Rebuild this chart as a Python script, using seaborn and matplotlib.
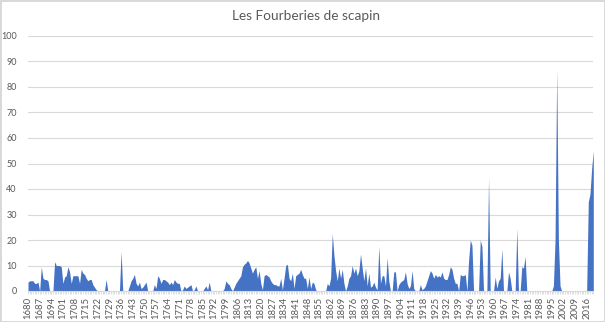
import numpy as np
import pandas as pd
import matplotlib
matplotlib.use("Agg")
import matplotlib.pyplot as plt
import seaborn as sns

title = "Les Fourberies de scapin"
start_year = 1680
end_year = 2020

v1680 = [3.5, 4, 4, 4, 3, 3, 3.5, 0, 9.5, 5]
v1690 = [4.5, 4.5, 4, 0, 0, 0, 11.5, 10, 10, 10]
v1700 = [9.5, 3, 5.5, 6, 9.5, 7.5, 3, 6, 6, 6]
v1710 = [6, 3, 8.5, 7, 6.5, 5, 4, 4.5, 4.5, 2.5]
v1720 = [1.5, 0.5, 0, 0, 0, 0, 0, 4.5, 0, 0]
v1730 = [0, 0, 0, 0, 0, 0, 15.5, 0, 0, 0]
v1740 = [0, 2, 4, 5, 6.5, 3, 2, 3.5, 1, 1.5]
v1750 = [2.5, 3.5, 0, 0, 0, 0, 2.5, 1, 6, 5]
v1760 = [3, 4.5, 4.5, 4, 3.5, 2.5, 3.5, 2.5, 4.5, 3.5]
v1770 = [3, 3, 0, 0.5, 2, 1, 1.5, 2, 2.5, 0]
v1780 = [0.5, 2, 0, 0, 0, 0, 1, 2, 0.5, 3.5]
v1790 = [0, 0, 0, 0, 0, 0, 0, 0, 1, 4]
v1800 = [3, 2.5, 1, 0, 1.5, 3, 4, 5, 6, 9.5]
v1810 = [10.5, 11, 12, 11, 9, 7, 8.5, 9.5, 5, 8]
v1820 = [3, 0.5, 6, 6.5, 6, 5.5, 4, 3, 2.5, 2.5]
v1830 = [2, 2, 5, 0.5, 5, 10, 10.5, 5, 4, 7]
v1840 = [1, 6, 6.5, 7, 8.5, 6.5, 5, 5, 1, 5.5]
v1850 = [1, 3.5, 3, 0.5, 0, 0, 0, 0, 0, 0]
v1860 = [3, 2, 5, 22.5, 14, 8, 4, 9, 5, 8.5]
v1870 = [3, 0, 2, 5, 6, 10, 7, 9, 6, 8]
v1880 = [14.5, 9, 4, 9, 2, 7, 1.5, 2, 3.5, 1.5]
v1890 = [0.5, 17.5, 3, 6, 6, 2, 13, 4, 0, 0]
v1900 = [7.5, 7.5, 0, 2.5, 3.5, 4, 4.5, 7.5, 3, 1]
v1910 = [2, 8, 1, 0, 0, 0, 2.5, 0.5, 1, 2]
v1920 = [4, 6, 8, 7, 5, 6.5, 5.5, 6, 5.5, 7.5]
v1930 = [5, 4.5, 4.5, 6.5, 9.5, 8.5, 5, 3, 3, 0]
v1940 = [6.5, 6, 6, 6.5, 0, 12, 20, 18, 0, 0]
v1950 = [0, 0, 20, 17.5, 0, 0, 0, 44.5, 0, 0]
v1960 = [0, 5.5, 1, 4, 5, 16.5, 0, 0, 0, 7.5]
v1970 = [5, 0, 0, 0, 24.5, 0, 0, 9.5, 9, 13.5]
v1980 = [0, 0, 0, 0, 0, 0, 0, 0, 0, 0]
v1990 = [0, 0, 0, 0, 0, 0, 2, 20, 87, 20]
v2000 = [2, 0, 0, 0, 0, 0, 0, 0, 0, 0]
v2010 = [0, 0, 0, 0, 0, 0, 0, 35, 38, 48]
v2020 = [55]

values = (v1680 + v1690 + v1700 + v1710 + v1720 + v1730 + v1740 + v1750 + v1760 + v1770
          + v1780 + v1790 + v1800 + v1810 + v1820 + v1830 + v1840 + v1850 + v1860 + v1870
          + v1880 + v1890 + v1900 + v1910 + v1920 + v1930 + v1940 + v1950 + v1960 + v1970
          + v1980 + v1990 + v2000 + v2010 + v2020)
years = list(range(start_year, end_year + 1))
assert len(values) == len(years), (len(values), len(years))

df = pd.DataFrame({"year": years, "value": values})

sns.set_theme(style="white")
plt.rcParams['font.family'] = ['Lato', 'DejaVu Sans']

fig = plt.figure(figsize=(6.05, 3.22), dpi=100)
fig.patch.set_facecolor("white")
fig.patch.set_edgecolor("#d9d9d9")
fig.patch.set_linewidth(1.0)

W, H = 605, 322
left, right = 28 / W, 593.3 / W
bottom, top = 1 - 291 / H, 1 - 36 / H
ax = fig.add_axes([left, bottom, right - left, top - bottom])

color = "#4472C4"
sns.lineplot(data=df, x="year", y="value", ax=ax, color=color, linewidth=0)
ax.fill_between(df["year"], 0, df["value"], color=color, linewidth=0)

ax.set_xlim(start_year, end_year)
ax.set_ylim(0, 100)
ax.set_yticks(np.arange(0, 101, 10))
ax.yaxis.grid(True, color="#d9d9d9", linewidth=0.8)
ax.set_axisbelow(True)

xt = list(range(start_year, end_year + 1, 7))
ax.set_xticks(xt)
ax.set_xticklabels([str(y) for y in xt], rotation=90, fontsize=6.8, color="#595959")
ax.set_xticks(years, minor=True)
ax.tick_params(axis="x", which="both", length=2.5, color="#d9d9d9", width=0.6, pad=1.8, bottom=True)
ax.tick_params(axis="y", labelsize=6.5, labelcolor="#595959", length=0, pad=8)

for s in ["top", "right", "left"]:
    ax.spines[s].set_visible(False)
ax.spines["bottom"].set_color("#d9d9d9")
ax.spines["bottom"].set_linewidth(0.8)
ax.set_xlabel("")
ax.set_ylabel("")

fig.text(0.505, 1 - 16 / H, title, ha="center", va="center", fontsize=9.8, color="#595959")

fig.savefig("out.png", dpi=100, facecolor="white", edgecolor="#d9d9d9")
